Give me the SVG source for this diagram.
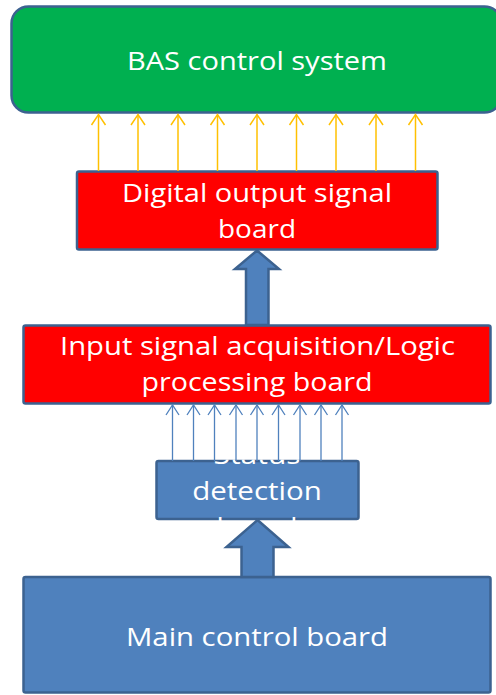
<svg xmlns="http://www.w3.org/2000/svg" width="496" height="695" viewBox="0 0 496 695">
  <style>
    .lbl { font-family: "Open Sans", "Liberation Sans", sans-serif; font-size: 26px; fill: #ffffff; text-anchor: middle; }
    .box { stroke: #3c6290; stroke-width: 2.5; }
    .green { fill: #00b050; }
    .red { fill: #ff0000; }
    .blue { fill: #4f81bd; }
    .sig-y { stroke: #ffc000; stroke-width: 1.5; fill: none; marker-end: url(#head-y); }
    .sig-b { stroke: #4f81bd; stroke-width: 1.3; fill: none; marker-end: url(#head-b); }
    .bigarrow { fill: #4f81bd; stroke: #3c6290; stroke-width: 2.5; stroke-linejoin: miter; }
  </style>
  <defs>
    <marker id="head-y" markerUnits="userSpaceOnUse" viewBox="-12 -9 14 18" markerWidth="14" markerHeight="18" refX="0" refY="0" orient="auto">
      <path d="M-10.5,-7 L0,0 L-10.5,7" fill="none" stroke="#ffc000" stroke-width="1.5"/>
    </marker>
    <marker id="head-b" markerUnits="userSpaceOnUse" viewBox="-12 -9 14 18" markerWidth="14" markerHeight="18" refX="0" refY="0" orient="auto">
      <path d="M-10,-6.5 L0,0 L-10,6.5" fill="none" stroke="#4f81bd" stroke-width="1.3"/>
    </marker>
    <clipPath id="status-clip">
      <rect x="155" y="459.5" width="205.5" height="61.5"/>
    </clipPath>
  </defs>

  <!-- BAS control system -->
  <g id="bas">
    <rect class="box green" x="11.5" y="6.5" width="490" height="106" rx="17"/>
    <text class="lbl" x="257" y="70" textLength="260" lengthAdjust="spacingAndGlyphs">BAS control system</text>
  </g>

  <!-- Digital output signal board -->
  <g id="digital-output">
    <rect class="box red" x="77" y="171.5" width="360.5" height="78" rx="2"/>
    <text class="lbl" x="257" y="201.5" textLength="270" lengthAdjust="spacingAndGlyphs">Digital output signal</text>
    <text class="lbl" x="257" y="237.5" textLength="78" lengthAdjust="spacingAndGlyphs">board</text>
  </g>

  <!-- Input signal acquisition / logic processing board -->
  <g id="input-logic">
    <rect class="box red" x="23.5" y="325.5" width="467" height="78" rx="2"/>
    <text class="lbl" x="257.5" y="355" textLength="395" lengthAdjust="spacingAndGlyphs">Input signal acquisition/Logic</text>
    <text class="lbl" x="257" y="391" textLength="231" lengthAdjust="spacingAndGlyphs">processing board</text>
  </g>

  <!-- Status detection board (label runs past the box edges) -->
  <g id="status-detection">
    <rect class="box blue" x="156.5" y="461" width="202" height="58" rx="2"/>
    <g clip-path="url(#status-clip)">
      <text class="lbl" x="257" y="464" textLength="87" lengthAdjust="spacingAndGlyphs">Status</text>
      <text class="lbl" x="257" y="500" textLength="129.5" lengthAdjust="spacingAndGlyphs">detection</text>
      <text class="lbl" x="257" y="536" textLength="81" lengthAdjust="spacingAndGlyphs">board</text>
    </g>
  </g>

  <!-- Main control board -->
  <g id="main-control">
    <rect class="box blue" x="23.5" y="577" width="467" height="115.5" rx="2"/>
    <text class="lbl" x="257" y="646" textLength="262" lengthAdjust="spacingAndGlyphs">Main control board</text>
  </g>

  <g id="connectors">
    <!-- output signals to BAS -->
    <line class="sig-y" x1="98.5" y1="171" x2="98.5" y2="114.5"/>
    <line class="sig-y" x1="138" y1="171" x2="138" y2="114.5"/>
    <line class="sig-y" x1="178" y1="171" x2="178" y2="114.5"/>
    <line class="sig-y" x1="217.5" y1="171" x2="217.5" y2="114.5"/>
    <line class="sig-y" x1="257" y1="171" x2="257" y2="114.5"/>
    <line class="sig-y" x1="296.5" y1="171" x2="296.5" y2="114.5"/>
    <line class="sig-y" x1="336" y1="171" x2="336" y2="114.5"/>
    <line class="sig-y" x1="376" y1="171" x2="376" y2="114.5"/>
    <line class="sig-y" x1="415.5" y1="171" x2="415.5" y2="114.5"/>

    <!-- logic board to output board -->
    <polygon class="bigarrow" points="257,250.5 279,269 268.5,269 268.5,325 246,325 246,269 235,269"/>

    <!-- status signals to logic board -->
    <line class="sig-b" x1="172.5" y1="461" x2="172.5" y2="405"/>
    <line class="sig-b" x1="193.5" y1="461" x2="193.5" y2="405"/>
    <line class="sig-b" x1="214.5" y1="461" x2="214.5" y2="405"/>
    <line class="sig-b" x1="236" y1="461" x2="236" y2="405"/>
    <line class="sig-b" x1="257" y1="461" x2="257" y2="405"/>
    <line class="sig-b" x1="278.5" y1="461" x2="278.5" y2="405"/>
    <line class="sig-b" x1="300" y1="461" x2="300" y2="405"/>
    <line class="sig-b" x1="321" y1="461" x2="321" y2="405"/>
    <line class="sig-b" x1="342" y1="461" x2="342" y2="405"/>

    <!-- main board to status detection -->
    <polygon class="bigarrow" points="257.5,520 288.5,547 273.5,547 273.5,577 241.5,577 241.5,547 226.5,547"/>
  </g>
</svg>
